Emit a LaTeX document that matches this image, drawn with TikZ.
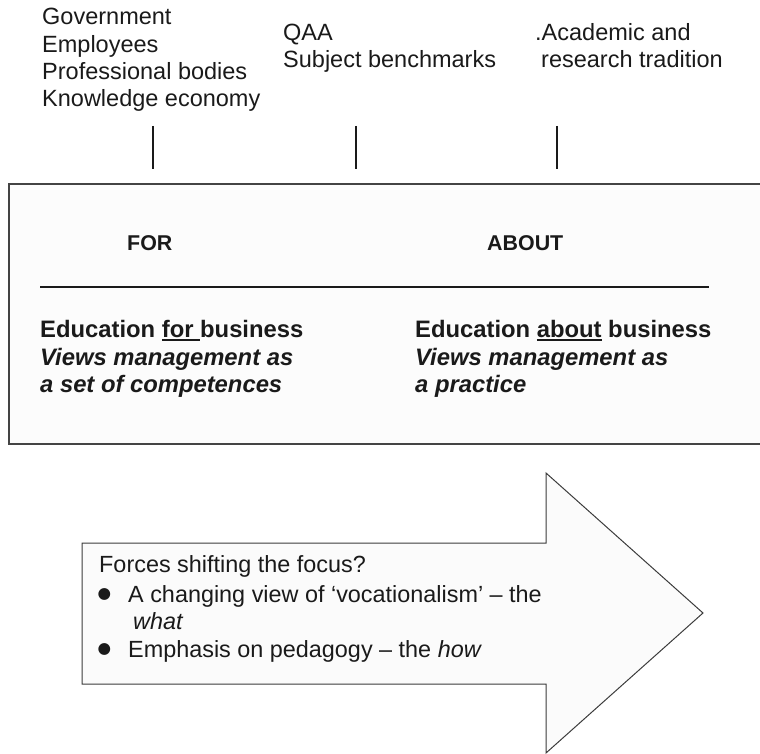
\documentclass[tikz,border=0pt]{standalone}
\usepackage{fontspec}
\setmainfont{Liberation Sans}
\newfontfamily\dejavu{DejaVu Sans}
\newcommand{\myul}[1]{\setbox0\hbox{#1}\rlap{\rule[-4pt]{\wd0}{1.8pt}}\box0\relax}
\definecolor{ink}{HTML}{1A1A1A}
\definecolor{frame}{HTML}{444444}
\begin{document}
\begin{tikzpicture}[x=1pt,y=-1pt,
  toptext/.style={anchor=base west,inner sep=0pt,text=ink,font=\fontsize{23.5}{28}\selectfont},
  headtext/.style={anchor=base west,inner sep=0pt,text=ink,font=\bfseries\fontsize{21.4}{26}\selectfont},
  boldtext/.style={anchor=base west,inner sep=0pt,text=ink,font=\bfseries\fontsize{23.8}{28}\selectfont},
  bitext/.style={anchor=base west,inner sep=0pt,text=ink,font=\bfseries\itshape\fontsize{23.8}{28}\selectfont},
  arrowtext/.style={anchor=base west,inner sep=0pt,text=ink,font=\fontsize{23.4}{28}\selectfont},
  bullettext/.style={anchor=center,inner sep=0pt,text=ink,font=\dejavu\fontsize{15.5}{15.5}\selectfont},
  tickline/.style={line width=2.5pt,draw=ink},
  bigbox/.style={draw=frame,line width=1.5pt,fill=black!1},
  divider/.style={line width=2.5pt,draw=ink},
  bigarrow/.style={draw=ink!85,line width=1pt,fill=black!1.5,line join=miter}
]
\useasboundingbox (0,0) rectangle (760,754);

% top text blocks
\node[toptext] (g1) at (42,25) {Government};
\node[toptext] (g2) at (42,53) {Employees};
\node[toptext] (g3) at (42,80) {Professional bodies};
\node[toptext] (g4) at (42,107) {Knowledge economy};
\node[toptext] (q1) at (283,41) {QAA};
\node[toptext] (q2) at (283,68) {Subject benchmarks};
\node[toptext] (a1) at (535,41) {.Academic and};
\node[toptext] (a2) at (541,68) {research tradition};

% short vertical ticks
\coordinate (t1a) at (153,126); \coordinate (t1b) at (153,169);
\coordinate (t2a) at (356,126); \coordinate (t2b) at (356,169);
\coordinate (t3a) at (557,126); \coordinate (t3b) at (557,169);
\draw[tickline] (t1a) -- (t1b);
\draw[tickline] (t2a) -- (t2b);
\draw[tickline] (t3a) -- (t3b);

% main box
\coordinate (boxnw) at (9,184);
\coordinate (boxse) at (766,444);
\draw[bigbox] (boxnw) rectangle (boxse);

\node[headtext] (for) at (127,250) {FOR};
\node[headtext] (about) at (487,250) {ABOUT};

\coordinate (dl) at (40,287);
\coordinate (dr) at (709,287);
\draw[divider] (dl) -- (dr);

\node[boldtext] (f1) at (40,337) {Education \myul{for }business};
\node[bitext] (f2) at (40,365) {Views management as};
\node[bitext] (f3) at (40,392) {a set of competences};

\node[boldtext] (b1) at (415,337) {Education \myul{about} business};
\node[bitext] (b2) at (415,365) {Views management as};
\node[bitext] (b3) at (415,392) {a practice};

% big arrow
\draw[bigarrow] (82,543) -- (546,543) -- (546,473) -- (703,613) -- (546,753) -- (546,684) -- (82,684) -- cycle;

\node[arrowtext] (h0) at (99,572) {Forces shifting the focus?};
\node[bullettext] (d1) at (104.5,594.7) {●};
\node[arrowtext] (h1) at (128,602) {A changing view of ‘vocationalism’ – the};
\node[arrowtext] (h1b) at (133,629) {\itshape what};
\node[bullettext] (d2) at (104.5,649) {●};
\node[arrowtext] (h2) at (128,657) {Emphasis on pedagogy – the \textit{how}};
\end{tikzpicture}
\end{document}
